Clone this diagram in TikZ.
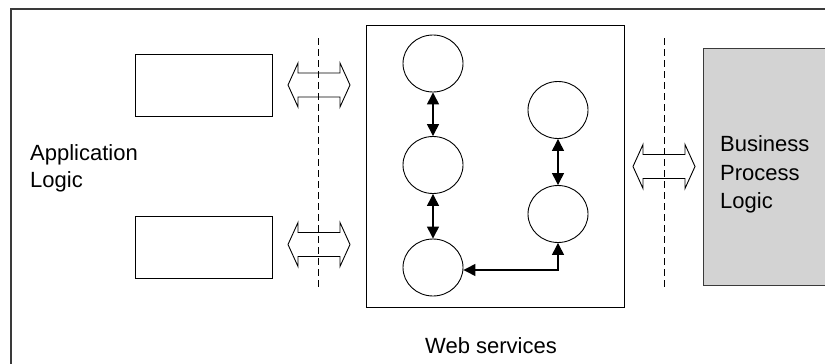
\documentclass[tikz,border=0pt]{standalone}
\usepackage{fontspec}
\setmainfont{Liberation Sans}
\usetikzlibrary{arrows.meta,shapes.geometric}
\definecolor{frameclr}{HTML}{3A3A3A}
\definecolor{bpgray}{HTML}{D3D3D3}
\tikzset{
  box/.style={draw=black, line width=0.9pt},
  svc/.style={draw=black, ellipse, line width=0.9pt, minimum width=60pt, minimum height=57pt, inner sep=0pt},
  link/.style={line width=1.3pt, {Triangle[width=12pt,length=12pt]}-{Triangle[width=12pt,length=12pt]}},
  divider/.style={line width=0.9pt, dash pattern=on 7pt off 4pt},
  lbl/.style={font=\fontsize{22}{27}\selectfont, inner sep=0pt, anchor=base west},
  pics/dblarrow/.style={code={
    \draw[line width=0.9pt, fill=white] (-31,0) -- (-21,22) -- (-21,12) -- (21,12) -- (21,22) -- (31,0)
      -- (21,-22) -- (21,-12) -- (-21,-12) -- (-21,-22) -- cycle;
  }}
}
\begin{document}
\begin{tikzpicture}[x=1pt,y=-1pt]
\useasboundingbox (0,0) rectangle (825,364);
\begin{scope}
\clip (0,0) rectangle (825,364);
% outer frame (open to the right and bottom)
\draw[frameclr, line width=1.5pt] (11,380) -- (11,9) -- (840,9);
% business process box
\node[draw=frameclr, fill=bpgray, line width=1.2pt, minimum width=122pt, minimum height=237pt, inner sep=0pt, anchor=north west] (bp) at (703,48) {};
\end{scope}
% left boxes
\node[box, minimum width=137pt, minimum height=62pt, inner sep=0pt, anchor=north west] (a1) at (135,54) {};
\node[box, minimum width=137pt, minimum height=62pt, inner sep=0pt, anchor=north west] (a2) at (135,216) {};
% web services box
\node[box, minimum width=258pt, minimum height=282pt, inner sep=0pt, anchor=north west] (ws) at (366,25) {};
% dashed dividers
\coordinate (d1t) at (318,38); \coordinate (d1b) at (318,290);
\coordinate (d2t) at (664,38); \coordinate (d2b) at (664,290);
% double arrows
\pic at (319,85) {dblarrow};
\pic at (319,244.5) {dblarrow};
\pic at (664,166.5) {dblarrow};
\draw[divider] (d1t) -- (d1b);
\draw[divider] (d2t) -- (d2b);
% services
\node[svc] (c1) at (433,63.5) {};
\node[svc] (c2) at (433,165) {};
\node[svc] (c3) at (433,267.5) {};
\node[svc] (c4) at (558,110) {};
\node[svc] (c5) at (558,214) {};
\draw[link] (c1) -- (c2);
\draw[link] (c2) -- (c3);
\draw[link] (c4) -- (c5);
\draw[link] (c3.east |- 0,270) -| (c5);
% labels
\node[lbl] (t1) at (30,160) {Application};
\node[lbl] (t2) at (30,187) {Logic};
\node[lbl] (t3) at (720,151.7) {Business};
\node[lbl] (t4) at (720,180) {Process};
\node[lbl] (t5) at (720,208) {Logic};
\node[lbl, anchor=base] (t6) at (491,353) {Web services};
\end{tikzpicture}
\end{document}
